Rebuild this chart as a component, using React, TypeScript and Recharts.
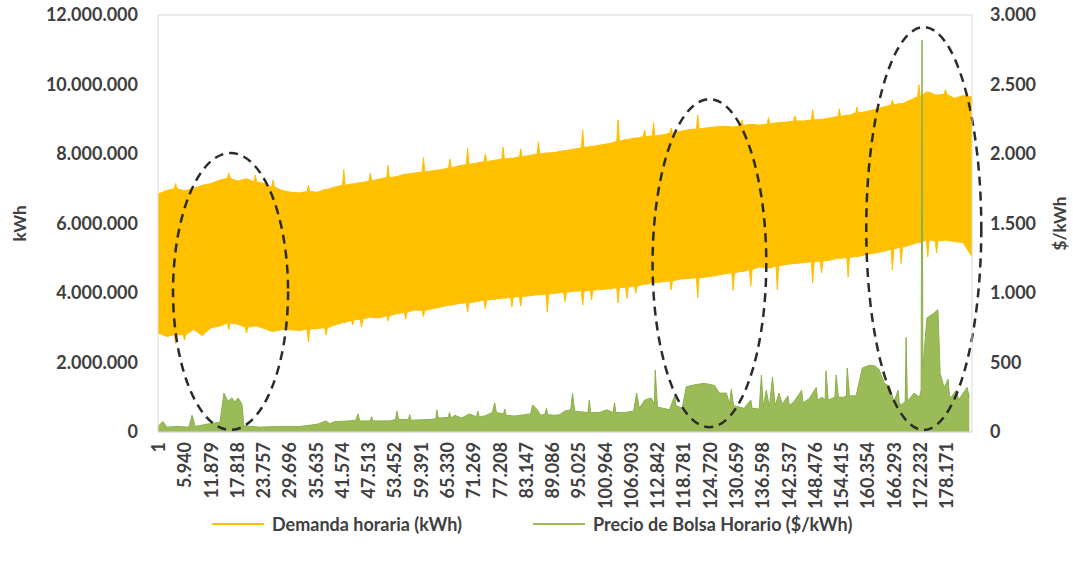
import { Area, CartesianGrid, ComposedChart, Legend, ReferenceArea, XAxis, YAxis } from "recharts"

// demand band read every 2.000 hours (hour 1 .. 184.001), millions of kWh
const HOUR_STEP = 2000
const SPIKE_HALF_WIDTH = 300

const demandMaxM = [
  6.85, 6.95, 7.0, 6.95, 7.0, 7.1, 7.15, 7.25, 7.3, 7.22,
  7.28, 7.2, 7.15, 7.05, 6.95, 6.9, 6.88, 6.92, 6.9, 6.98,
  7.05, 7.1, 7.14, 7.18, 7.22, 7.28, 7.32, 7.35, 7.42, 7.45,
  7.48, 7.52, 7.55, 7.6, 7.66, 7.7, 7.74, 7.78, 7.82, 7.85,
  7.88, 7.92, 7.96, 8.0, 8.03, 8.05, 8.1, 8.14, 8.18, 8.22,
  8.26, 8.3, 8.36, 8.42, 8.46, 8.5, 8.52, 8.55, 8.6, 8.65,
  8.7, 8.72, 8.75, 8.78, 8.8, 8.78, 8.82, 8.85, 8.83, 8.86,
  8.9, 8.92, 8.95, 8.95, 8.98, 9.0, 9.04, 9.08, 9.12, 9.18,
  9.22, 9.28, 9.35, 9.41, 9.45, 9.55, 9.65, 9.78, 9.7, 9.72,
  9.6, 9.68, 9.64,
]
const demandMinM = [
  2.85, 2.75, 2.8, 2.8, 2.95, 2.78, 3.0, 3.05, 3.14, 3.1,
  3.02, 3.05, 2.98, 2.9, 2.95, 2.94, 2.92, 2.96, 2.98, 3.0,
  3.08, 3.15, 3.22, 3.25, 3.3, 3.28, 3.35, 3.4, 3.45, 3.51,
  3.5, 3.55, 3.6, 3.65, 3.7, 3.72, 3.75, 3.8, 3.82, 3.85,
  3.88, 3.9, 3.92, 3.95, 3.97, 4.0, 4.02, 4.05, 4.06, 4.08,
  4.1, 4.12, 4.15, 4.17, 4.2, 4.25, 4.3, 4.32, 4.35, 4.4,
  4.42, 4.44, 4.46, 4.5, 4.55, 4.58, 4.62, 4.68, 4.75, 4.72,
  4.78, 4.82, 4.85, 4.88, 4.9, 4.92, 4.95, 5.0, 5.02, 5.05,
  5.1, 5.15, 5.2, 5.26, 5.32, 5.38, 5.45, 5.53, 5.5, 5.52,
  5.48, 5.45, 5.04,
]
// single-hour peaks and dips on the band (sample index -> millions of kWh)
const peakIdx = [
  2, 8, 11, 13, 17, 21, 24, 26, 30, 33, 35, 37, 39, 41, 43, 48,
  52, 55, 56, 58, 61, 66, 69, 72, 74, 77, 79, 83, 86, 89,
]
const peakM = [
  7.15, 7.45, 7.4, 7.25, 7.1, 7.55, 7.45, 7.68, 7.9, 7.85, 8.17, 8.0, 8.2, 8.15, 8.35, 8.69,
  8.98, 8.69, 8.9, 8.75, 9.12, 8.98, 9.05, 9.1, 9.27, 9.3, 9.35, 9.55, 9.99, 9.85,
]
const dipIdx = [
  2, 3, 8, 10, 17, 19, 22, 23, 26, 28, 30, 35, 37, 40, 41, 44, 46,
  48, 49, 52, 53, 54, 58, 61, 65, 67, 70, 74, 75, 78, 83, 84, 87, 88,
]
const dipM = [
  2.55, 2.65, 2.95, 2.85, 2.59, 2.79, 3.08, 3.02, 3.2, 3.25, 3.32, 3.45, 3.55, 3.6, 3.62, 3.45, 3.75,
  3.65, 3.8, 3.72, 3.85, 4.0, 4.09, 3.86, 4.08, 4.2, 4.09, 4.29, 4.58, 4.46, 4.66, 4.85, 5.04, 5.15,
]

// precio de bolsa horario, $/kWh
const priceHours = [
  1, 1100, 2000, 4500, 7000, 7700, 8400, 11700, 14000, 14700,
  14900, 15800, 16700, 17400, 18100, 19000, 19400, 23000, 27500, 32100,
  35900, 38000, 38800, 40000, 43400, 44700, 45200, 45600, 48000, 48300,
  48600, 52400, 53700, 54000, 54400, 56600, 56900, 57200, 61400, 62800,
  63000, 63400, 65600, 65900, 66200, 67100, 68600, 70400, 72000, 72300,
  72600, 73800, 75600, 76100, 76500, 78100, 78400, 78700, 80600, 82900,
  84200, 84700, 85600, 86500, 87500, 87800, 88100, 89600, 90800, 91900,
  93300, 93700, 94200, 97200, 97500, 97800, 99800, 101400, 102900, 103200,
  103500, 105400, 107500, 108200, 108800, 110000, 111500, 112200, 112400, 112900,
  115600, 116800, 117100, 118500, 119400, 121300, 123500, 125800, 126900, 128500,
  129200, 129600, 130100, 132500, 134000, 134300, 135900, 136400, 136800, 137500,
  138200, 138900, 139500, 140400, 141100, 142400, 142700, 143800, 145500, 145800,
  147200, 148800, 149100, 150200, 150800, 151000, 151500, 153000, 153300, 153800,
  154900, 155600, 155800, 156300, 157800, 159200, 160800, 162100, 163000, 164200,
  165300, 166400, 167300, 167600, 168200, 168900, 169100, 169400, 170900, 172100,
  172500, 172700, 172900, 173800, 175200, 176300, 176800, 177700, 178600, 178900,
  179300, 180400, 181000, 181800, 182900, 183400,
]
const priceValues = [
  40, 75, 35, 40, 35, 120, 40, 60, 70, 230,
  280, 220, 245, 215, 245, 200, 45, 35, 40, 40,
  55, 80, 60, 75, 80, 85, 130, 80, 80, 110,
  80, 80, 90, 150, 90, 90, 125, 85, 90, 95,
  160, 100, 105, 140, 100, 120, 100, 130, 110, 150,
  110, 115, 140, 210, 140, 130, 165, 120, 115, 125,
  130, 195, 165, 120, 130, 170, 125, 120, 125, 150,
  160, 280, 150, 140, 230, 140, 140, 160, 140, 210,
  140, 140, 150, 280, 170, 230, 245, 200, 445, 180,
  160, 260, 190, 170, 325, 340, 350, 335, 280, 280,
  200, 310, 190, 170, 230, 170, 165, 410, 180, 300,
  180, 395, 190, 280, 200, 260, 190, 220, 300, 210,
  240, 320, 230, 250, 230, 440, 230, 250, 410, 250,
  250, 260, 460, 260, 260, 460, 480, 475, 450, 350,
  330, 220, 300, 200, 200, 220, 680, 220, 280, 250,
  300, 2820, 450, 820, 850, 880, 420, 320, 380, 260,
  250, 300, 230, 270, 320, 250,
]

const xTicks = [
  1, 5940, 11879, 17818, 23757, 29696, 35635, 41574, 47513, 53452, 59391,
  65330, 71269, 77208, 83147, 89086, 95025, 100964, 106903, 112842, 118781,
  124720, 130659, 136598, 142537, 148476, 154415, 160354, 166293, 172232, 178171,
]
const kwhTicks = [0, 2000000, 4000000, 6000000, 8000000, 10000000, 12000000]
const priceTicks = [0, 500, 1000, 1500, 2000, 2500, 3000]

// dashed ellipses: hour range and kWh range of each
const highlightHours = [
  [3400, 29400],
  [111800, 137500],
  [160100, 186100],
]
const highlightKwh = [
  [60000, 8030000],
  [140000, 9580000],
  [60000, 11650000],
]

const demandData: { hour: number; demanda: number[] }[] = []
demandMaxM.forEach((max, i) => {
  const hour = i * HOUR_STEP + 1
  const base = [demandMinM[i] * 1e6, max * 1e6]
  const p = peakIdx.indexOf(i)
  const d = dipIdx.indexOf(i)
  if (p < 0 && d < 0) {
    demandData.push({ hour, demanda: base })
    return
  }
  const spike = [(d < 0 ? demandMinM[i] : dipM[d]) * 1e6, (p < 0 ? max : peakM[p]) * 1e6]
  demandData.push({ hour: hour - SPIKE_HALF_WIDTH, demanda: base })
  demandData.push({ hour, demanda: spike })
  demandData.push({ hour: hour + SPIKE_HALF_WIDTH, demanda: base })
})

const priceData = priceHours.map((hour, i) => ({ hour, precio: priceValues[i] }))

const FONT = "Lato, 'Open Sans', sans-serif"
const TEXT = "#404040"
const YELLOW = "#FFC000"
const GREEN = "#9BBB59"

const fmt = (v: number) => String(v).replace(/\B(?=(\d{3})+(?!\d))/g, ".")

const tickStyle = { fill: TEXT, fontSize: 18, fontWeight: 700, fontFamily: FONT }

function XTick(props: any) {
  const { x, y, payload } = props
  return (
    <text
      transform={`translate(${x},${y}) rotate(-90)`}
      textAnchor="end"
      dominantBaseline="central"
      {...tickStyle}
    >
      {fmt(payload.value)}
    </text>
  )
}

function DashedEllipse(props: any) {
  const { x, y, width, height } = props
  return (
    <ellipse
      cx={x + width / 2}
      cy={y + height / 2}
      rx={width / 2}
      ry={height / 2}
      fill="none"
      stroke="#2b2b2b"
      strokeWidth={2.5}
      strokeDasharray="9 6"
    />
  )
}

function LegendContent() {
  const item = (left: number, color: string, label: string) => (
    <div style={{ position: "absolute", left, top: 17, display: "flex", alignItems: "center" }}>
      <div style={{ width: 52, height: 2, background: color, marginRight: 8 }} />
      <span style={{ ...tickStyle, color: TEXT, whiteSpace: "nowrap" }}>{label}</span>
    </div>
  )
  return (
    <div style={{ position: "relative", height: 75, width: 1073 }}>
      {item(212, YELLOW, "Demanda horaria (kWh)")}
      {item(533, GREEN, "Precio de Bolsa Horario ($/kWh)")}
    </div>
  )
}

export default function App() {
  return (
    <div style={{ position: "absolute", left: 0, top: 0, background: "#fff" }}>
      <ComposedChart
        width={1073}
        height={571}
        data={demandData}
        margin={{ top: 15, right: 0, left: 0, bottom: 0 }}
        style={{ fontFamily: FONT }}
      >
        <CartesianGrid vertical={false} stroke="#d9d9d9" />
        <XAxis
          dataKey="hour"
          type="number"
          domain={[1, 184001]}
          allowDataOverflow
          ticks={xTicks}
          interval={0}
          height={64}
          tick={<XTick />}
          tickLine={false}
          tickSize={4}
          tickMargin={6}
          axisLine={{ stroke: "#d9d9d9" }}
        />
        <YAxis
          yAxisId="left"
          width={158}
          domain={[0, 12000000]}
          ticks={kwhTicks}
          tickFormatter={fmt}
          tick={tickStyle}
          tickLine={false}
          tickSize={0}
          tickMargin={20}
          axisLine={{ stroke: "#d9d9d9" }}
          label={{
            value: "kWh",
            angle: -90,
            position: "insideLeft",
            offset: 20,
            style: { ...tickStyle, fontSize: 17, textAnchor: "middle" },
          }}
        />
        <YAxis
          yAxisId="right"
          orientation="right"
          width={101}
          domain={[0, 3000]}
          ticks={priceTicks}
          tickFormatter={fmt}
          tick={tickStyle}
          tickLine={false}
          tickSize={0}
          tickMargin={18}
          axisLine={{ stroke: "#d9d9d9" }}
          label={{
            value: "$/kWh",
            angle: -90,
            position: "insideRight",
            offset: 13,
            style: { ...tickStyle, fontSize: 17, textAnchor: "middle" },
          }}
        />
        <Legend verticalAlign="bottom" height={75} content={<LegendContent />} />
        <Area
          yAxisId="left"
          type="linear"
          dataKey="demanda"
          name="Demanda horaria (kWh)"
          stroke={YELLOW}
          strokeWidth={1}
          fill={YELLOW}
          fillOpacity={1}
          isAnimationActive={false}
        />
        <Area
          yAxisId="right"
          data={priceData}
          type="linear"
          dataKey="precio"
          name="Precio de Bolsa Horario ($/kWh)"
          stroke="#8CB04B"
          strokeWidth={1}
          fill={GREEN}
          fillOpacity={1}
          isAnimationActive={false}
        />
        {highlightHours.map(([h1, h2], i) => (
          <ReferenceArea
            key={`ellipse-${i}`}
            yAxisId="left"
            x1={h1}
            x2={h2}
            y1={highlightKwh[i][0]}
            y2={highlightKwh[i][1]}
            ifOverflow="visible"
            shape={<DashedEllipse />}
          />
        ))}
      </ComposedChart>
    </div>
  )
}
